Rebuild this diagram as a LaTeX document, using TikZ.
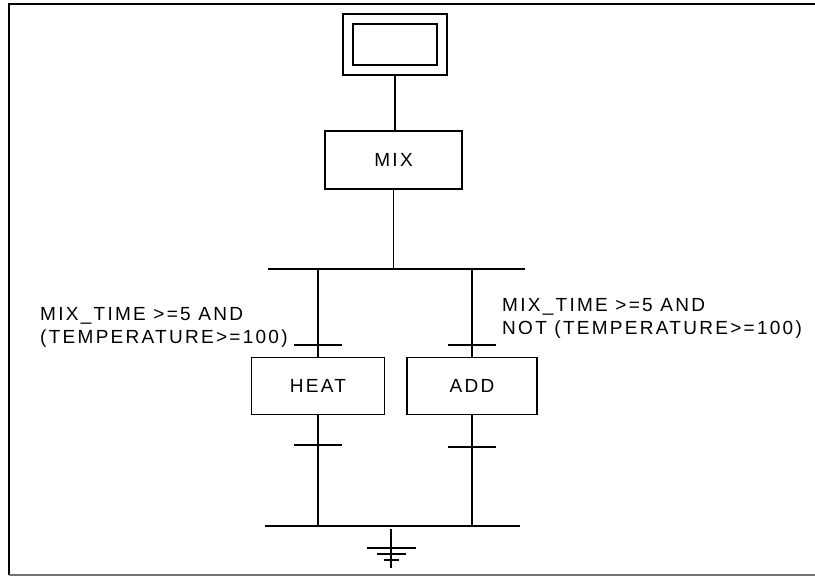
\documentclass[tikz,border=0pt]{standalone}
\usepackage{fontspec}
\newfontfamily\sfcfont[LetterSpace=12]{Liberation Sans}
\newcommand{\sfclabel}{\sfcfont\fontsize{19}{23}\selectfont}
\usepackage{tikz}
\usetikzlibrary{positioning}

\begin{document}
\begin{tikzpicture}[
  x=1pt, y=-1pt,
  every node/.style={font=\sfclabel},
  stepbox/.style={draw, line width=1.5pt, inner sep=0pt, outer sep=0pt},
  guardtext/.style={align=left, inner sep=0pt, anchor=north west},
  sfcline/.style={line width=1.5pt}
]
  \useasboundingbox (0,0) rectangle (815,576);
  \def\tw{24}

  % Frame
  \draw[line width=2pt] (9,575) -- (9,4) -- (815,4);
  \draw[line width=2pt, black!55] (9,575) -- (815,575);

  % Initial step
  \node[stepbox, minimum width=104pt, minimum height=61pt] (init) at (395,44.5) {};
  \node[stepbox, minimum width=84pt, minimum height=41pt] (initin) at (init.center) {};

  % Steps
  \node[stepbox, minimum width=137pt, minimum height=58pt] (mix) at (393.5,160) {MIX};
  \node[stepbox, minimum width=133pt, minimum height=57pt] (heat) at (318,386) {HEAT};
  \node[stepbox, minimum width=130pt, minimum height=57pt] (add) at (472,386) {ADD};

  % Divergence and convergence bars
  \coordinate (divl) at (268,269);
  \coordinate (divr) at (525,269);
  \coordinate (convl) at (265,526);
  \coordinate (convr) at (520,526);
  \draw[sfcline] (divl) -- (divr);
  \draw[sfcline] (convl) -- (convr);

  % Links
  \draw[sfcline] (init.south) -- (init.south |- mix.north);
  \draw[sfcline] (mix.south) -- (mix.south |- divl);
  \draw[sfcline] (heat.north |- divl) -- (heat.north);
  \draw[sfcline] (add.north |- divl) -- (add.north);
  \draw[sfcline] (heat.south) -- (heat.south |- convl);
  \draw[sfcline] (add.south) -- (add.south |- convl);

  % Transitions
  \coordinate (t1) at (318,345);
  \coordinate (t2) at (472,345);
  \coordinate (t3) at (318,445);
  \coordinate (t4) at (472,447);
  \foreach \t in {t1,t2,t3,t4}
    \draw[sfcline] (\t) ++(-\tw,0) -- ++(2*\tw,0);

  % Guards
  \node[guardtext] (guardheat) at (40,307) {MIX\_TIME >=5 AND\\(TEMPERATURE>=100)};
  \node[guardtext] (guardadd) at (502,298) {MIX\_TIME >=5 AND\\NOT (TEMPERATURE>=100)};

  % End symbol
  \coordinate (gtop) at (391,529);
  \coordinate (gbot) at (391,568);
  \draw[sfcline] (gtop) -- (gbot);
  \draw[sfcline] (gtop) ++(-24.5,19) -- ++(49,0);
  \draw[sfcline] (gtop) ++(-14.5,25) -- ++(29,0);
  \draw[sfcline] (gtop) ++(-7.5,31) -- ++(15,0);
\end{tikzpicture}
\end{document}
